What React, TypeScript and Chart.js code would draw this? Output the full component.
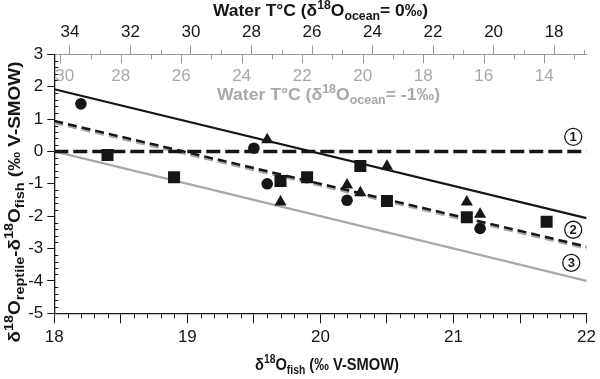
import React, { useEffect, useRef } from 'react';
import { Chart, registerables } from 'chart.js';

Chart.register(...registerables);

const FONT = '"Liberation Sans", Arial, Helvetica, sans-serif';
const BLACK = '#161616';
const GREY = '#a8a8a8';

// Bottom axis: δ18O fish (‰ V-SMOW)
const X_MIN = 18;
const X_MAX = 22;
const X_MAJOR_TICKS = [18, 18.5, 19, 19.5, 20, 20.5, 21, 21.5, 22];
const X_LABELS = [18, 19, 20, 21, 22];
const X_MINOR_STEP = 0.1;

// Left axis: δ18O reptile − δ18O fish
const Y_MIN = -5;
const Y_MAX = 3;
const Y_TICKS = [-5, -4, -3, -2, -1, 0, 1, 2, 3];
const Y_MINOR_STEP = 0.2;

// Top axis: water temperature for δ18O ocean = 0‰ (value at δfish = 18 and 22)
const TOP_T_RANGE = [34.517, 16.928];
const TOP_T_LABELS = [18, 20, 22, 24, 26, 28, 30, 32, 34];
const TOP_T_MINOR = [17, 19, 21, 23, 25, 27, 29, 31, 33];

// Inner grey scale: water temperature for δ18O ocean = -1‰ (value at δfish = 18 and 22)
const GREY_T_RANGE = [30.198, 12.598];
const GREY_T_LABELS = [14, 16, 18, 20, 22, 24, 26, 28, 30];
const GREY_T_MINOR = [13, 15, 17, 19, 21, 23, 25, 27, 29];

// Data points
const SQUARE_X = [18.4, 18.9, 19.7, 19.9, 20.3, 20.5, 21.1, 21.7];
const SQUARE_Y = [-0.11, -0.8, -0.91, -0.8, -0.45, -1.53, -2.03, -2.17];
const CIRCLE_X = [18.2, 19.5, 19.6, 20.2, 21.2];
const CIRCLE_Y = [1.47, 0.1, -1.0, -1.51, -2.38];
const TRIANGLE_X = [19.6, 19.7, 20.2, 20.3, 20.5, 21.1, 21.2];
const TRIANGLE_Y = [0.36, -1.56, -1.04, -1.28, -0.46, -1.56, -1.94];

// Lines
const LINE_X = [18, 22];
const LINE1_Y = [0, 0];
const LINE_SOLID_Y = [1.92, -2.06];
const LINE2_Y = [0.94, -2.94];
const LINE2_SHADOW_Y = [0.88, -3.0];
const LINE3_Y = [0, -4];

// Circled labels (position in data units)
const MARK_LABELS = ['1', '2', '3'];
const MARK_X = [21.9, 21.9, 21.885];
const MARK_Y = [0.45, -2.42, -3.44];

const pts = (xs: number[], ys: number[]) => xs.map((x, i) => ({ x, y: ys[i] }));

type Seg = { t: string; size: number; dy?: number };

function drawRich(
  ctx: CanvasRenderingContext2D,
  segs: Seg[],
  cx: number,
  cy: number,
  targetW: number,
  angle: number,
  color: string
) {
  ctx.save();
  ctx.translate(cx, cy);
  ctx.rotate(angle);
  let total = 0;
  const widths = segs.map((s) => {
    ctx.font = `bold ${s.size}px ${FONT}`;
    const w = ctx.measureText(s.t).width;
    total += w;
    return w;
  });
  const k = targetW / total;
  ctx.scale(k, 1);
  ctx.fillStyle = color;
  ctx.textBaseline = 'alphabetic';
  ctx.textAlign = 'left';
  let x = -total / 2;
  segs.forEach((s, i) => {
    ctx.font = `bold ${s.size}px ${FONT}`;
    ctx.fillText(s.t, x, 6 + (s.dy || 0));
    x += widths[i];
  });
  ctx.restore();
}

const greyToFish = (T: number) =>
  X_MIN + ((GREY_T_RANGE[0] - T) / (GREY_T_RANGE[0] - GREY_T_RANGE[1])) * (X_MAX - X_MIN);

const decorPlugin = {
  id: 'decor',
  afterDraw(chart: any) {
    const ctx: CanvasRenderingContext2D = chart.ctx;
    const { left, right, top, bottom } = chart.chartArea;
    const xs = chart.scales.x;
    const ys = chart.scales.y;
    const xt = chart.scales.xTop;
    const al = (p: number) => Math.round(p) + 0.5;
    ctx.save();
    ctx.lineWidth = 1;

    // bottom minor ticks
    ctx.strokeStyle = BLACK;
    ctx.beginPath();
    const nX = Math.round((X_MAX - X_MIN) / X_MINOR_STEP);
    for (let i = 0; i <= nX; i++) {
      if (i % 5 === 0) continue;
      const px = al(xs.getPixelForValue(X_MIN + i * X_MINOR_STEP));
      ctx.moveTo(px, bottom);
      ctx.lineTo(px, bottom + 5);
    }
    // left minor ticks (inward)
    const nY = Math.round((Y_MAX - Y_MIN) / Y_MINOR_STEP);
    for (let i = 0; i <= nY; i++) {
      if (i % 5 === 0) continue;
      const py = al(ys.getPixelForValue(Y_MIN + i * Y_MINOR_STEP));
      ctx.moveTo(left, py);
      ctx.lineTo(left + 4, py);
    }
    ctx.stroke();

    // top minor ticks (black scale, grey marks)
    ctx.strokeStyle = '#9a9a9a';
    ctx.beginPath();
    TOP_T_MINOR.forEach((T) => {
      const px = al(xt.getPixelForValue(T));
      ctx.moveTo(px, top);
      ctx.lineTo(px, top - 4);
    });
    // grey scale ticks (downwards)
    GREY_T_LABELS.forEach((T) => {
      const px = al(xs.getPixelForValue(greyToFish(T)));
      ctx.moveTo(px, top);
      ctx.lineTo(px, top + 9);
    });
    GREY_T_MINOR.forEach((T) => {
      const px = al(xs.getPixelForValue(greyToFish(T)));
      ctx.moveTo(px, top);
      ctx.lineTo(px, top + 5);
    });
    ctx.stroke();

    // grey scale labels
    ctx.fillStyle = GREY;
    ctx.font = `17px ${FONT}`;
    ctx.textAlign = 'center';
    ctx.textBaseline = 'middle';
    GREY_T_LABELS.forEach((T) => {
      let px = xs.getPixelForValue(greyToFish(T));
      const w = ctx.measureText(String(T)).width;
      if (px - w / 2 < left + 1) px = left + 1 + w / 2;
      ctx.fillText(String(T), px, top + 22);
    });

    // titles
    drawRich(
      ctx,
      [
        { t: 'Water T°C (δ', size: 17 },
        { t: '18', size: 12, dy: -7 },
        { t: 'O', size: 17 },
        { t: 'ocean', size: 12, dy: 4 },
        { t: '= 0‰)', size: 17 },
      ],
      320.5,
      10,
      215,
      0,
      BLACK
    );
    drawRich(
      ctx,
      [
        { t: 'Water T°C (δ', size: 17 },
        { t: '18', size: 12, dy: -7 },
        { t: 'O', size: 17 },
        { t: 'ocean', size: 12, dy: 4 },
        { t: '= -1‰)', size: 17 },
      ],
      328.5,
      top + 40,
      223,
      0,
      GREY
    );
    drawRich(
      ctx,
      [
        { t: 'δ', size: 17 },
        { t: '18', size: 12, dy: -7 },
        { t: 'O', size: 17 },
        { t: 'fish', size: 12, dy: 4 },
        { t: ' (‰ V-SMOW)', size: 17 },
      ],
      327,
      364,
      144,
      0,
      BLACK
    );
    drawRich(
      ctx,
      [
        { t: 'δ', size: 17 },
        { t: '18', size: 13, dy: -7 },
        { t: 'O', size: 17 },
        { t: 'reptile', size: 13, dy: 4 },
        { t: '-δ', size: 17 },
        { t: '18', size: 13, dy: -7 },
        { t: 'O', size: 17 },
        { t: 'fish', size: 13, dy: 4 },
        { t: ' (‰ V-SMOW)', size: 17 },
      ],
      14,
      202,
      281,
      -Math.PI / 2,
      BLACK
    );

    // circled numbers
    MARK_LABELS.forEach((lab, i) => {
      const px = xs.getPixelForValue(MARK_X[i]);
      const py = ys.getPixelForValue(MARK_Y[i]);
      ctx.beginPath();
      ctx.arc(px, py, 8.5, 0, Math.PI * 2);
      ctx.fillStyle = '#fff';
      ctx.fill();
      ctx.strokeStyle = BLACK;
      ctx.lineWidth = 1.3;
      ctx.stroke();
      ctx.fillStyle = BLACK;
      ctx.font = `bold 13px ${FONT}`;
      ctx.textAlign = 'center';
      ctx.textBaseline = 'middle';
      ctx.fillText(lab, px, py + 1);
    });
    ctx.restore();
  },
};

export default function App() {
  const ref = useRef<HTMLCanvasElement | null>(null);
  useEffect(() => {
    document.body.style.margin = '0';
    const canvas = ref.current;
    if (!canvas) return;
    const lineDs = (ys: number[], color: string, width: number, dash: number[], order: number) => ({
      data: pts(LINE_X, ys),
      showLine: true,
      borderColor: color,
      backgroundColor: color,
      borderWidth: width,
      borderDash: dash,
      borderCapStyle: 'butt',
      pointRadius: 0,
      order,
    });
    const chart = new Chart(canvas, {
      type: 'scatter',
      data: {
        datasets: [
          {
            data: pts(SQUARE_X, SQUARE_Y),
            pointStyle: 'rect',
            pointRadius: 8.5,
            backgroundColor: BLACK,
            borderColor: BLACK,
            borderWidth: 0,
            order: 0,
          },
          {
            data: pts(CIRCLE_X, CIRCLE_Y),
            pointStyle: 'circle',
            pointRadius: 5.8,
            backgroundColor: BLACK,
            borderColor: BLACK,
            borderWidth: 0,
            order: 0,
          },
          {
            data: pts(TRIANGLE_X, TRIANGLE_Y),
            pointStyle: 'triangle',
            pointRadius: 7,
            backgroundColor: BLACK,
            borderColor: BLACK,
            borderWidth: 0,
            order: 0,
          },
          lineDs(LINE1_Y, BLACK, 3.5, [14, 5], 1),
          lineDs(LINE_SOLID_Y, BLACK, 2.2, [], 2),
          lineDs(LINE2_Y, BLACK, 2.5, [9, 5], 3),
          lineDs(LINE2_SHADOW_Y, GREY, 2.5, [9, 5], 4),
          lineDs(LINE3_Y, GREY, 2.2, [], 5),
        ] as any,
      },
      options: {
        animation: false,
        responsive: false,
        devicePixelRatio: 1,
        layout: { padding: { left: 0, right: 11.7, top: 0, bottom: 0 } },
        plugins: { legend: { display: false }, tooltip: { enabled: false } },
        scales: {
          x: {
            type: 'linear',
            position: 'bottom',
            min: X_MIN,
            max: X_MAX,
            afterBuildTicks: (s: any) => {
              s.ticks = X_MAJOR_TICKS.map((v) => ({ value: v }));
            },
            afterFit: (s: any) => {
              s.height = 65.7;
            },
            ticks: {
              autoSkip: false,
              maxRotation: 0,
              padding: 4,
              color: BLACK,
              font: { size: 17, family: FONT },
              callback: (v: any) => (X_LABELS.includes(Number(v)) ? String(v) : ''),
            },
            grid: { drawOnChartArea: false, drawTicks: true, tickLength: 10, tickColor: BLACK, tickWidth: 1 },
            border: { display: true, color: BLACK, width: 1.3 },
          },
          xTop: {
            type: 'linear',
            position: 'top',
            reverse: true,
            min: TOP_T_RANGE[1],
            max: TOP_T_RANGE[0],
            afterBuildTicks: (s: any) => {
              s.ticks = TOP_T_LABELS.map((v) => ({ value: v }));
            },
            afterFit: (s: any) => {
              s.height = 54.3;
            },
            ticks: {
              autoSkip: false,
              maxRotation: 0,
              padding: 3,
              color: BLACK,
              font: { size: 17, family: FONT },
              callback: (v: any) => String(v),
            },
            grid: { drawOnChartArea: false, drawTicks: true, tickLength: 9, tickColor: '#9a9a9a', tickWidth: 1 },
            border: { display: true, color: '#9a9a9a', width: 1 },
          },
          y: {
            type: 'linear',
            position: 'left',
            min: Y_MIN,
            max: Y_MAX,
            afterBuildTicks: (s: any) => {
              s.ticks = Y_TICKS.map((v) => ({ value: v }));
            },
            afterFit: (s: any) => {
              s.width = 54.3;
            },
            ticks: {
              padding: 4,
              color: BLACK,
              font: { size: 17, family: FONT },
              callback: (v: any) => String(v),
            },
            grid: { drawOnChartArea: false, drawTicks: true, tickLength: 7, tickColor: BLACK, tickWidth: 1 },
            border: { display: true, color: BLACK, width: 1.3 },
          },
        },
      } as any,
      plugins: [decorPlugin],
    });
    return () => chart.destroy();
  }, []);
  return <canvas ref={ref} width={600} height={379} style={{ display: 'block' }} />;
}
